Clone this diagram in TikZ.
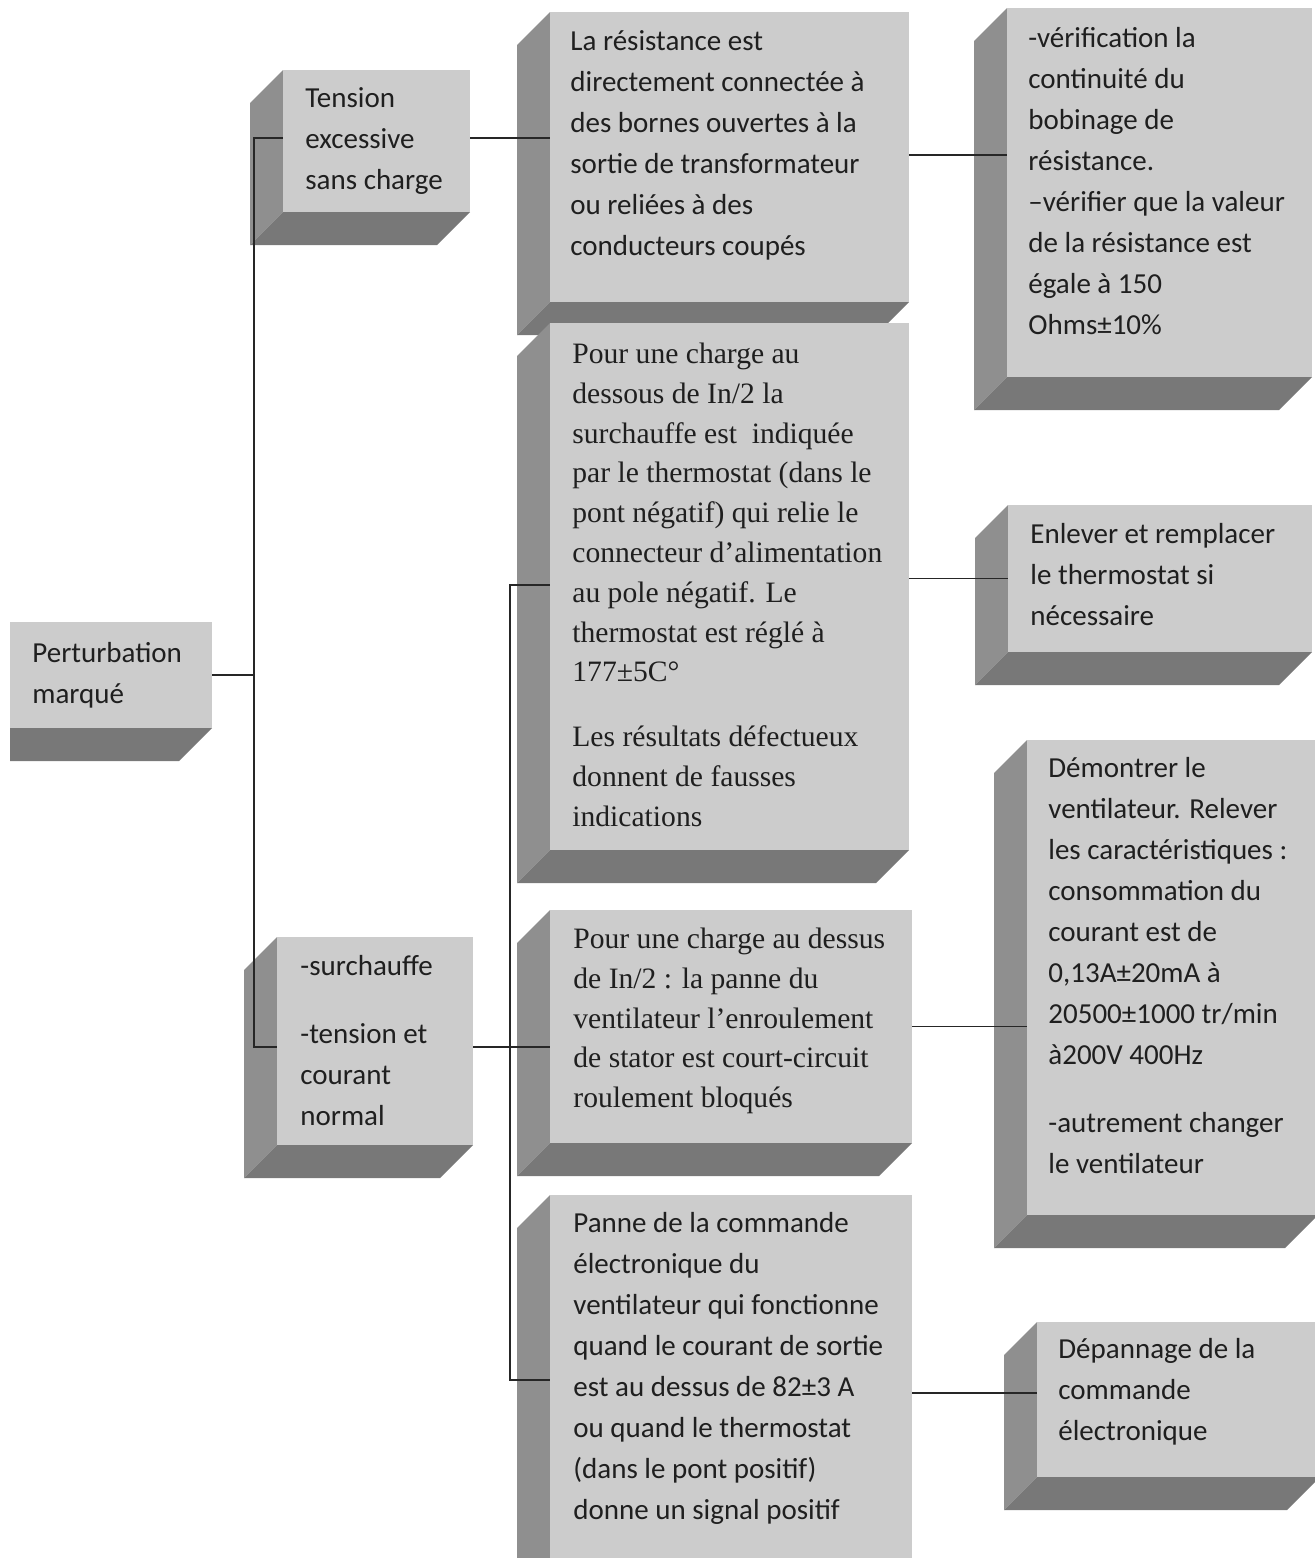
\documentclass[tikz,border=0pt]{standalone}
\usepackage{fontspec}
\setmainfont{Carlito}
\newfontfamily\serifx{Liberation Serif}
\usetikzlibrary{fit}
\definecolor{facec}{gray}{0.80}
\definecolor{leftc}{gray}{0.56}
\definecolor{botc}{gray}{0.47}
\definecolor{linec}{gray}{0.15}
\definecolor{txtc}{gray}{0.12}
\tikzset{
  face/.style={fill=facec, inner sep=0pt, draw=none},
  sanstxt/.style={anchor=north west, inner sep=0pt, align=left, text=txtc, font=\fontsize{14.5}{20.5}\selectfont},
  seriftxt/.style={anchor=north west, inner sep=0pt, align=left, text=txtc, font=\serifx\fontsize{14.8}{19.9}\selectfont},
  conn/.style={draw=linec, line width=0.8pt},
}
\newcommand\bevelbox[5]{%
  \fill[leftc] (#2,#3) -- (#2-33,#3+33) -- (#2-33,#5+33) -- (#2,#5) -- cycle;
  \fill[botc] (#2,#5) -- (#2-33,#5+33) -- (#4-33,#5+33) -- (#4,#5) -- cycle;
  \node[face, fit={(#2,#3) (#4,#5)}] (#1) {};
}
\begin{document}
\begin{tikzpicture}[x=0.5pt,y=-0.5pt]
\useasboundingbox (0,0) rectangle (1315,1558);
\clip (0,0) rectangle (1315,1558);
\fill[white] (0,0) rectangle (1315,1558);

% left column
\begin{scope}
  \clip (10,0) rectangle (1315,1558);
  \bevelbox{pert}{10}{622}{212}{728}
\end{scope}
\node[sanstxt] (pertT) at (32,662-28.7) {\strut Perturbation\\marqué};

\bevelbox{tens}{283}{70}{470}{212}
\node[sanstxt] (tensT) at (305,107-28.7) {\strut Tension\\excessive\\sans charge};

\bevelbox{surc}{277}{937}{473}{1145}
\node[sanstxt] (surcT) at (300,975-28.7) {\strut -surchauffe\\[13.5pt]-tension et\\courant\\normal};

% middle column
\bevelbox{resi}{550}{12}{909}{302}
\node[sanstxt] (resiT) at (570,50-28.7) {\strut La résistance est\\directement connectée à\\des bornes ouvertes à la\\sortie de transformateur\\ou reliées à des\\conducteurs coupés};

\bevelbox{pour1}{550}{323}{909}{850}
\node[seriftxt] (pour1T) at (572,363-27.86) {\strut Pour une charge au\\dessous de In/2 la\\surchauffe est~ indiquée\\par le thermostat (dans le\\pont négatif) qui relie le\\connecteur d’alimentation\\au pole négatif. Le\\thermostat est réglé à\\177±5C°\\[12.5pt]Les résultats défectueux\\donnent de fausses\\indications};

\bevelbox{pour2}{550}{910}{912}{1143}
\node[seriftxt] (pour2T) at (573,948-27.86) {\strut Pour une charge au dessus\\de In/2 : la panne du\\ventilateur l’enroulement\\de stator est court-circuit\\roulement bloqués};

\bevelbox{panne}{550}{1195}{912}{1600}
\node[sanstxt] (panneT) at (573,1232-28.7) {\strut Panne de la commande\\électronique du\\ventilateur qui fonctionne\\quand le courant de sortie\\est au dessus de 82±3 A\\ou quand le thermostat\\(dans le pont positif)\\donne un signal positif};

% right column
\bevelbox{veri}{1007}{8}{1312}{377}
\node[sanstxt] (veriT) at (1028,47-28.7) {\strut -vérification la\\continuité du\\bobinage de\\résistance.\\–vérifier que la valeur\\de la résistance est\\égale à 150\\Ohms±10\%};

\bevelbox{enle}{1008}{505}{1312}{652}
\node[sanstxt] (enleT) at (1030,543-28.7) {\strut Enlever et remplacer\\le thermostat si\\nécessaire};

\bevelbox{demo}{1027}{740}{1318}{1215}
\node[sanstxt] (demoT) at (1048,777-28.7) {\strut Démontrer le\\ventilateur. Relever\\les caractéristiques :\\consommation du\\courant est de\\0,13A±20mA à\\20500±1000 tr/min\\à200V 400Hz\\[13.5pt]-autrement changer\\le ventilateur};

\bevelbox{depa}{1037}{1322}{1320}{1477}
\node[sanstxt] (depaT) at (1058,1358-28.7) {\strut Dépannage de la\\commande\\électronique};

% connectors
\coordinate (T1) at (254,138);
\coordinate (T2) at (254,1047);
\coordinate (T3) at (510,585);
\coordinate (T4) at (510,1380);
\coordinate (C1) at (0,155);
\coordinate (C2) at (0,1393);
\draw[conn] (pert.east) -- (pert.east -| T1);
\draw[conn] (T1 -| tens.west) -- (T1) -- (T2) -- (T2 -| surc.west);
\draw[conn] (tens.east |- T1) -- (resi.west |- T1);
\draw[conn] (resi.east |- C1) -- (veri.west |- C1);
\draw[conn] (surc.east |- T2) -- (pour2.west |- T2);
\draw[conn] (T3 -| pour1.west) -- (T3) -- (T4) -- (T4 -| panne.west);
\draw[conn] (pour1.east |- enle.west) -- (enle.west);
\draw[conn] (pour2.east) -- (pour2.east -| demo.west);
\draw[conn] (panne.east |- C2) -- (depa.west |- C2);
\end{tikzpicture}
\end{document}
